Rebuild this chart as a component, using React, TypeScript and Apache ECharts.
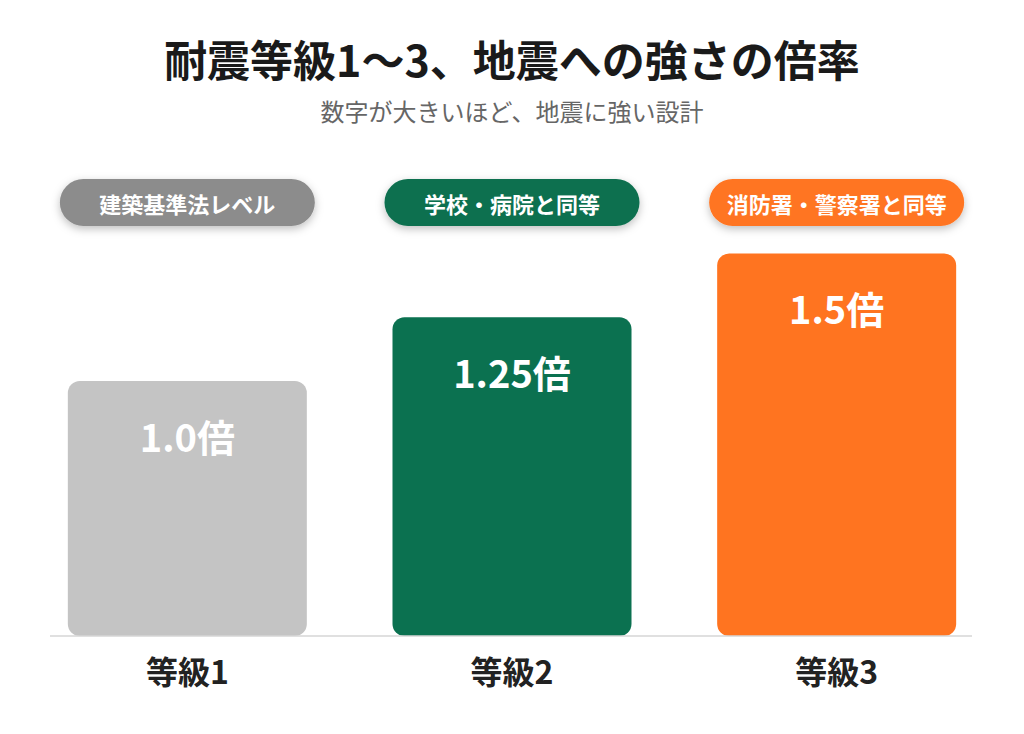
import React, { useEffect, useRef } from "react";
import * as echarts from "echarts";

const categories = ["等級1", "等級2", "等級3"];
const values = [1.0, 1.25, 1.5];
const valueLabels = ["1.0倍", "1.25倍", "1.5倍"];
const badges = ["建築基準法レベル", "学校・病院と同等", "消防署・警察署と同等"];
const barColors = ["#c4c4c4", "#0b7150", "#ff7420"];
const badgeColors = ["#8c8c8c", "#0f704f", "#ff7420"];
const titleText = "耐震等級1〜3、地震への強さの倍率";
const subtitleText = "数字が大きいほど、地震に強い設計";

const FONT = '"Noto Sans CJK JP", "Noto Sans", sans-serif';

export default function App() {
  const ref = useRef<HTMLDivElement>(null);
  useEffect(() => {
    if (!ref.current) return;
    const chart = echarts.init(ref.current, null, { renderer: "svg" });
    const rich: any = {};
    badges.forEach((_, i) => {
      rich["b" + i] = {
        backgroundColor: badgeColors[i],
        color: "#ffffff",
        fontSize: 22,
        fontWeight: "bold",
        fontFamily: FONT,
        width: 255,
        height: 47,
        lineHeight: 47,
        align: "center",
        borderRadius: 24,
        shadowBlur: 8,
        shadowOffsetY: 3,
        shadowColor: "rgba(0,0,0,0.25)",
      };
    });
    chart.setOption({
      animation: false,
      backgroundColor: "#ffffff",
      title: [
        {
          text: titleText,
          left: "center",
          top: 31,
          textStyle: { fontSize: 43, fontWeight: "bold", color: "#1a1a1a", fontFamily: FONT },
        },
        {
          text: subtitleText,
          left: "center",
          top: 93,
          textStyle: { fontSize: 24, fontWeight: "normal", color: "#666666", fontFamily: FONT },
        },
      ],
      grid: { left: 25, right: 25, top: 126, bottom: 98 },
      xAxis: [
        {
          type: "category",
          data: categories,
          axisLine: { show: false },
          axisTick: { show: false },
          axisLabel: {
            fontSize: 32,
            fontWeight: "bold",
            color: "#222222",
            fontFamily: FONT,
            margin: 18,
          },
        },
        {
          type: "category",
          position: "top",
          data: badges,
          offset: -100,
          axisLine: { show: false },
          axisTick: { show: false },
          axisLabel: {
            margin: 0,
            verticalAlign: "bottom",
            formatter: (v: string) => {
              const i = badges.indexOf(v);
              return "{b" + i + "|" + v + "}";
            },
            rich,
          },
        },
      ],
      yAxis: {
        type: "value",
        min: 0,
        max: 2,
        show: false,
        splitLine: { show: false },
      },
      graphic: [
        {
          type: "line",
          shape: { x1: 50, y1: 636, x2: 972, y2: 636 },
          style: { stroke: "#d6d6d6", lineWidth: 1.5 },
          z: 10,
        },
      ],
      series: [
        {
          type: "bar",
          barWidth: 239,
          data: values.map((v, i) => ({
            value: v,
            itemStyle: { color: barColors[i], borderRadius: 12 },
          })),
          label: {
            show: true,
            position: "insideTop",
            distance: 35,
            formatter: (p: any) => valueLabels[p.dataIndex],
            fontSize: 38,
            fontWeight: "bold",
            color: "#ffffff",
            fontFamily: FONT,
          },
        },
      ],
    });
    return () => chart.dispose();
  }, []);
  return (
    <div
      ref={ref}
      style={{ position: "fixed", left: 0, top: 0, width: 1024, height: 734 }}
    />
  );
}
